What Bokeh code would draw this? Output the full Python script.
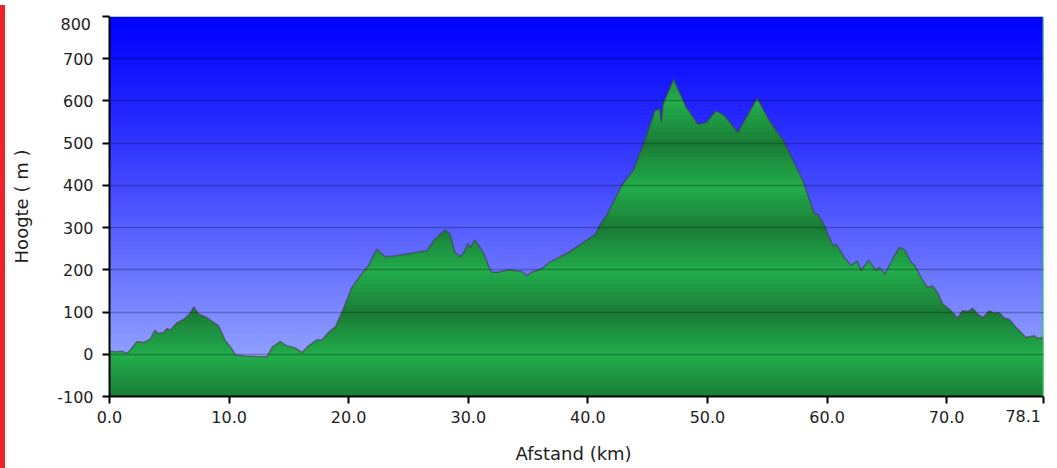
import numpy as np
from bokeh.plotting import figure
from bokeh.models import Range1d, FixedTicker, NumeralTickFormatter, Div, Span
from bokeh.layouts import row
from bokeh.embed import file_html
from bokeh.resources import INLINE

# ---- data ----
dist_km = [0.0, 0.6, 1.06, 1.48, 1.9, 2.3, 2.87, 3.42, 3.79, 4.07, 4.54, 4.82, 5.09, 5.65,
           6.21, 6.7, 7.05, 7.46, 8.02, 8.58, 9.13, 9.69, 10.1, 10.52, 11.36, 12.47, 13.17,
           13.58, 14.28, 14.84, 15.53, 16.09, 16.65, 17.34, 17.76, 18.45, 18.87, 19.43,
           20.26, 20.96, 21.66, 22.35, 23.04, 23.88, 26.53, 27.22, 28.05, 28.47, 28.89,
           29.31, 29.72, 29.95, 30.14, 30.56, 30.98, 31.39, 31.68, 31.96, 32.51, 33.35,
           34.46, 34.88, 35.3, 36.13, 36.82, 38.36, 40.58, 41.1, 41.6, 42.81, 43.78, 44.75,
           45.59, 46.0, 46.15, 46.29, 47.17, 48.23, 49.21, 49.9, 50.73, 51.43, 52.55,
           54.16, 55.19, 56.44, 57.98, 58.95, 59.23, 59.78, 60.48, 60.76, 61.45, 62.01,
           62.51, 62.85, 63.46, 64.1, 64.38, 64.85, 65.49, 66.04, 66.52, 67.02, 67.3,
           67.86, 68.41, 68.83, 69.25, 69.67, 70.22, 70.92, 71.34, 71.76, 72.18, 72.59,
           73.06, 73.56, 73.98, 74.39, 74.81, 75.23, 75.79, 76.21, 76.62, 77.32, 77.6, 78.1]
elev_m = [7, 6, 7, 2, 16, 30, 28, 36, 57, 49, 52, 61, 57, 75,
          83, 95, 112, 95, 89, 78, 67, 32, 18, -1, -4, -6, -6,
          16, 30, 20, 15, 4, 20, 34, 34, 56, 64, 99,
          158, 186, 210, 249, 231, 233, 245, 273, 294, 285, 241,
          231, 245, 263, 252, 271, 253, 233, 210, 194, 194, 200,
          196, 186, 194, 202, 218, 241, 283, 310, 330, 399, 435, 506,
          577, 581, 549, 593, 652, 585, 545, 549, 577, 565, 526,
          607, 553, 502, 411, 332, 332, 305, 257, 261, 229, 210,
          221, 198, 223, 198, 206, 190, 226, 253, 247, 218, 212,
          182, 158, 162, 146, 119, 107, 86, 103, 101, 109, 95,
          87, 103, 97, 99, 86, 83, 64, 52, 40, 44, 38, 40]
x_ticks = [0, 10, 20, 30, 40, 50, 60, 70, 78.1]
y_ticks = [-100, 0, 100, 200, 300, 400, 500, 600, 700, 800]
x_label = "Afstand  (km)"
y_label = "Hoogte ( m )"

X_MIN, X_MAX = 0.0, 78.1
Y_MIN, Y_MAX = -100, 800

FONT = "DejaVu Sans"
TXT = "#1e1e1e"

p = figure(width=1049, height=468,
           x_range=Range1d(X_MIN, X_MAX), y_range=Range1d(Y_MIN, Y_MAX),
           output_backend="svg", toolbar_location=None,
           min_border_left=99, min_border_right=14, min_border_top=16, min_border_bottom=72)
p.background_fill_color = "white"
p.border_fill_color = "white"
p.outline_line_color = None

step = 10
ov = 3.0
levels = np.arange(Y_MIN, Y_MAX, step)

# sky gradient (blue at top, pale blue at bottom)
def sky_color(v):
    f = (Y_MAX - (v + step / 2)) / (Y_MAX - Y_MIN)
    f = f ** 1.1
    return "#%02x%02x%02x" % (int(0 + 165 * f), int(0 + 182 * f), 255)

p.quad(left=[X_MIN] * len(levels), right=[X_MAX] * len(levels),
       bottom=np.maximum(levels - ov, Y_MIN), top=levels + step,
       fill_color=[sky_color(v) for v in levels], line_color=None)

# green banded terrain
d = np.array(dist_km, float)
e = np.array(elev_m, float)
light = np.array([34, 172, 76])
dark = np.array([26, 124, 54])

def green_color(v):
    vm = v + step / 2
    t = abs(((vm + 100) % 200) - 100) / 100.0
    c = light + (dark - light) * t
    return "#%02x%02x%02x" % tuple(int(round(x)) for x in c)

def crossings(level):
    e0, e1 = e[:-1], e[1:]
    m = (e0 - level) * (e1 - level) < 0
    t = (level - e0[m]) / (e1[m] - e0[m])
    return d[:-1][m] + t * (d[1:][m] - d[:-1][m])

for v0 in levels:
    v1 = v0 + step
    if e.max() <= v0:
        continue
    xs = np.unique(np.concatenate([d, crossings(v0), crossings(v1)]))
    ev = np.interp(xs, d, e)
    inside = ev > v0 + 0.05
    top = np.where(inside, np.clip(ev, v0, v1), v0)
    bottom = np.where(inside, max(v0 - ov, Y_MIN), v0)
    p.varea(x=xs, y1=bottom, y2=top, fill_color=green_color(v0))

# profile outline
p.line(dist_km, elev_m, line_color="#463c40", line_alpha=0.55, line_width=1.6)

# right edge green line
p.add_layout(Span(location=X_MAX, dimension="height", line_color="#33cc55", line_width=2))

# grid above the fills
p.xgrid.visible = False
p.ygrid.ticker = FixedTicker(ticks=y_ticks)
p.ygrid.level = "overlay"
p.ygrid.grid_line_color = "black"
p.ygrid.grid_line_alpha = 0.25
p.ygrid.grid_line_width = 1.6

# axes
p.xaxis.ticker = FixedTicker(ticks=x_ticks)
p.xaxis.formatter = NumeralTickFormatter(format="0.0")
p.xaxis.major_label_overrides = {x_ticks[-1]: ""}
p.yaxis.ticker = FixedTicker(ticks=y_ticks)
yovr = {t: str(t) for t in y_ticks}
yovr[y_ticks[-1]] = ""
p.yaxis.major_label_overrides = yovr
p.xaxis.axis_label = x_label
p.yaxis.axis_label = y_label
for ax in (p.xaxis, p.yaxis):
    ax.axis_line_color = "black"
    ax.axis_line_width = 2
    ax.major_tick_line_color = "black"
    ax.major_tick_line_width = 2
    ax.major_tick_out = 7
    ax.major_tick_in = 0
    ax.minor_tick_line_color = None
    ax.major_label_text_font = FONT
    ax.major_label_text_font_size = "16px"
    ax.major_label_text_color = TXT
    ax.axis_label_text_font = FONT
    ax.axis_label_text_font_size = "18px"
    ax.axis_label_text_font_style = "normal"
    ax.axis_label_text_color = TXT
p.yaxis.major_label_standoff = 9
p.yaxis.axis_label_standoff = 22
p.xaxis.major_label_standoff = 7
p.xaxis.axis_label_standoff = 17

# red page edge plus the two end labels that the reference shifts inward
last_x = "%.1f" % x_ticks[-1]
top_y = str(y_ticks[-1])
lab_style = ("position:absolute;width:50px;text-align:right;font-family:'DejaVu Sans';"
             "font-size:16px;line-height:19px;color:%s;white-space:nowrap;z-index:10;" % TXT)
side = Div(width=8, height=468, text=(
    '<div style="position:relative;width:10px;height:468px;background:#ee2229;">'
    '<div style="%sleft:996px;top:402px;">%s</div>'
    '<div style="%sleft:46px;top:10px;">%s</div>'
    '</div>' % (lab_style, last_x, lab_style, top_y)))
layout = row(side, p, spacing=0, styles={"margin-left": "-10px"})

open("out.html", "w").write(file_html(layout, INLINE))
